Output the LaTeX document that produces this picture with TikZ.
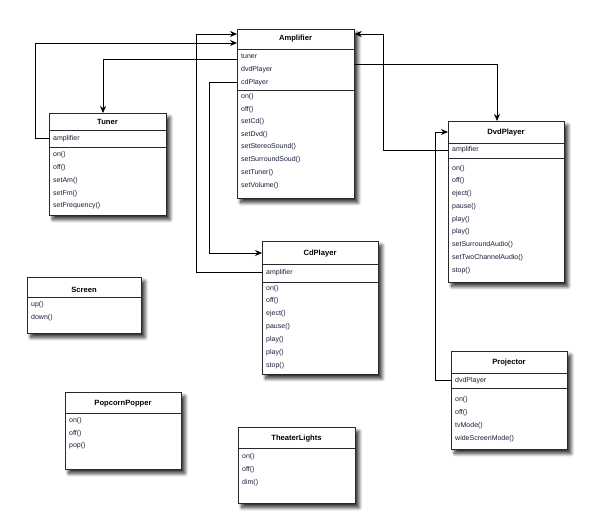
\documentclass[tikz,border=0pt]{standalone}
\usepackage{fontspec}
\setmainfont{Liberation Sans}
\usetikzlibrary{arrows.meta,shadows.blur,calc}
\definecolor{itemc}{RGB}{25,30,60}
\definecolor{linec}{RGB}{40,40,40}
\tikzset{
  umlbox/.style={draw=linec, line width=0.75bp, fill=white, anchor=north west, inner sep=0pt,
    blur shadow={shadow xshift=3.5bp, shadow yshift=-4bp, shadow blur steps=10, shadow blur radius=3.5bp, shadow opacity=85}},
  ttl/.style={font=\fontsize{7.6bp}{9bp}\selectfont\bfseries, text=black, inner sep=0pt},
  item/.style={font=\fontsize{7bp}{8bp}\selectfont, text=itemc, anchor=west, inner sep=0pt},
  sepl/.style={draw=linec, line width=0.75bp},
  conn/.style={draw=black, line width=0.8bp},
  arr/.style={conn, -{Stealth[length=7bp, width=6bp]}}
}
\begin{document}
\begin{tikzpicture}[x=1bp, y=-1bp]
\useasboundingbox (0,0) rectangle (589,530);

% ---------- Amplifier ----------
\node[umlbox, minimum width=117bp, minimum height=169bp] (amp) at (237,29) {};
\node[ttl] (ampT) at (295.5,39) {Amplifier};
\draw[sepl] (amp.west |- 0,49) -- (amp.east |- 0,49);
\draw[sepl] (amp.west |- 0,90) -- (amp.east |- 0,90);
\node[item] (ampA1) at (241,56.5) {tuner};
\node[item] (ampA2) at (241,69.5) {dvdPlayer};
\node[item] (ampA3) at (241,82.5) {cdPlayer};
\node[item] (ampM1) at (241,97) {on()};
\node[item] (ampM2) at (241,109.5) {off()};
\node[item] (ampM3) at (241,122) {setCd()};
\node[item] (ampM4) at (241,134.5) {setDvd()};
\node[item] (ampM5) at (241,147) {setStereoSound()};
\node[item] (ampM6) at (241,160) {setSurroundSoud()};
\node[item] (ampM7) at (241,173) {setTuner()};
\node[item] (ampM8) at (241,186) {setVolume()};

% ---------- Tuner ----------
\node[umlbox, minimum width=117bp, minimum height=102bp] (tun) at (49,113) {};
\node[ttl] (tunT) at (107.5,121.5) {Tuner};
\draw[sepl] (tun.west |- 0,130) -- (tun.east |- 0,130);
\draw[sepl] (tun.west |- 0,147) -- (tun.east |- 0,147);
\node[item] (tunA1) at (53,138.5) {amplifier};
\node[item] (tunM1) at (53,155) {on()};
\node[item] (tunM2) at (53,167.5) {off()};
\node[item] (tunM3) at (53,180.5) {setAm()};
\node[item] (tunM4) at (53,193.5) {setFm()};
\node[item] (tunM5) at (53,206) {setFrequency()};

% ---------- DvdPlayer ----------
\node[umlbox, minimum width=116bp, minimum height=161bp] (dvd) at (448,121) {};
\node[ttl] (dvdT) at (506,132.5) {DvdPlayer};
\draw[sepl] (dvd.west |- 0,143) -- (dvd.east |- 0,143);
\draw[sepl] (dvd.west |- 0,158) -- (dvd.east |- 0,158);
\node[item] (dvdA1) at (452,150) {amplifier};
\node[item] (dvdM1) at (452,168.5) {on()};
\node[item] (dvdM2) at (452,181) {off()};
\node[item] (dvdM3) at (452,194) {eject()};
\node[item] (dvdM4) at (452,206.5) {pause()};
\node[item] (dvdM5) at (452,219.5) {play()};
\node[item] (dvdM6) at (452,232) {play()};
\node[item] (dvdM7) at (452,245) {setSurroundAudio()};
\node[item] (dvdM8) at (452,258) {setTwoChannelAudio()};
\node[item] (dvdM9) at (452,270.5) {stop()};

% ---------- CdPlayer ----------
\node[umlbox, minimum width=116bp, minimum height=133bp] (cd) at (262,241) {};
\node[ttl] (cdT) at (320,254) {CdPlayer};
\draw[sepl] (cd.west |- 0,264) -- (cd.east |- 0,264);
\draw[sepl] (cd.west |- 0,282) -- (cd.east |- 0,282);
\node[item] (cdA1) at (266,272.5) {amplifier};
\node[item] (cdM1) at (266,288.5) {on()};
\node[item] (cdM2) at (266,301) {off()};
\node[item] (cdM3) at (266,313.5) {eject()};
\node[item] (cdM4) at (266,326.5) {pause()};
\node[item] (cdM5) at (266,339.5) {play()};
\node[item] (cdM6) at (266,352.5) {play()};
\node[item] (cdM7) at (266,365.5) {stop()};

% ---------- Screen ----------
\node[umlbox, minimum width=114bp, minimum height=56bp] (scr) at (27,277) {};
\node[ttl] (scrT) at (84,289.5) {Screen};
\draw[sepl] (scr.west |- 0,297.5) -- (scr.east |- 0,297.5);
\node[item] (scrM1) at (31,305) {up()};
\node[item] (scrM2) at (31,318) {down()};

% ---------- PopcornPopper ----------
\node[umlbox, minimum width=116bp, minimum height=77bp] (pop) at (65,392) {};
\node[ttl] (popT) at (123,403.5) {PopcornPopper};
\draw[sepl] (pop.west |- 0,413) -- (pop.east |- 0,413);
\node[item] (popM1) at (69,421) {on()};
\node[item] (popM2) at (69,433.5) {off()};
\node[item] (popM3) at (69,446) {pop()};

% ---------- TheaterLights ----------
\node[umlbox, minimum width=117bp, minimum height=76bp] (thl) at (238,427) {};
\node[ttl] (thlT) at (296.5,439) {TheaterLights};
\draw[sepl] (thl.west |- 0,448.5) -- (thl.east |- 0,448.5);
\node[item] (thlM1) at (242,457) {on()};
\node[item] (thlM2) at (242,470) {off()};
\node[item] (thlM3) at (242,483) {dim()};

% ---------- Projector ----------
\node[umlbox, minimum width=116bp, minimum height=98bp] (prj) at (451,351) {};
\node[ttl] (prjT) at (509,362.5) {Projector};
\draw[sepl] (prj.west |- 0,373) -- (prj.east |- 0,373);
\draw[sepl] (prj.west |- 0,388) -- (prj.east |- 0,388);
\node[item] (prjA1) at (455,380.5) {dvdPlayer};
\node[item] (prjM1) at (455,400) {on()};
\node[item] (prjM2) at (455,413) {off()};
\node[item] (prjM3) at (455,426) {tvMode()};
\node[item] (prjM4) at (455,439) {wideScreenMode()};

% ---------- connectors ----------
% Tuner.amplifier -> Amplifier
\draw[arr] (tun.west |- tunA1) -- (35,138.5) -- (35,43) -- (amp.west |- 0,43);
% Amplifier.tuner -> Tuner
\draw[arr] (amp.west |- 0,59) -| (tun.north -| 103,0);
% Amplifier.cdPlayer -> CdPlayer
\draw[arr] (amp.west |- ampA3) -| (209,253) -- (cd.west |- 0,253);
% CdPlayer.amplifier -> Amplifier
\draw[arr] (cd.west |- cdA1) -| (196,34) -- (amp.west |- 0,34);
% Amplifier.dvdPlayer -> DvdPlayer
\draw[arr] (amp.east |- 0,64) -| (dvd.north -| 497,0);
% DvdPlayer.amplifier -> Amplifier
\draw[arr] (dvd.west |- dvdA1) -| (383,34) -- (amp.east |- 0,34);
% Projector.dvdPlayer -> DvdPlayer
\draw[arr] (prj.west |- prjA1) -| (435,132) -- (dvd.west |- 0,132);
\end{tikzpicture}
\end{document}
